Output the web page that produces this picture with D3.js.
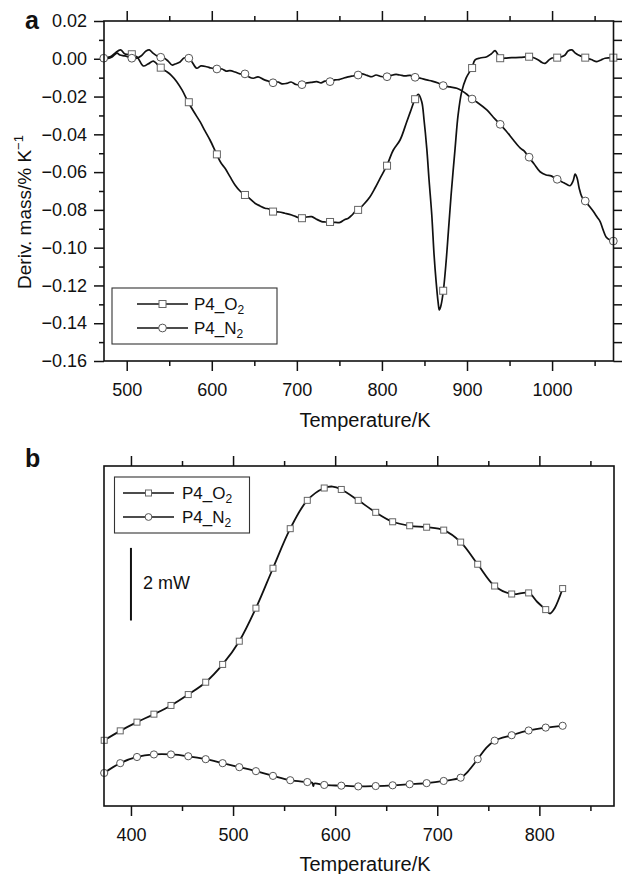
<!DOCTYPE html>
<html><head><meta charset="utf-8">
<script src="https://cdn.jsdelivr.net/npm/d3@7"></script>
<style>
body{margin:0;background:#fff}
svg{display:block}
text{font-family:"Liberation Sans",Arial,Helvetica,sans-serif;fill:#111}
</style>
</head><body>
<svg id="c" width="622" height="874"></svg>
<script>
// ---------- Panel a data (Temperature/K, Deriv. mass/% K^-1) ----------
const aO2Line = [
[473.3,0.0006],[480.4,0.0010],[486.2,0.0030],[492.9,0.0047],[498,0.0025],[505.9,0.0020],[512.1,0.0010],[519.5,-0.0038],[525,-0.0028],[531.3,-0.0012],[535.6,-0.0028],[539.5,-0.0047],[547,-0.0068],[552.1,-0.0086],[558.8,-0.0121],[565,-0.0165],[572.4,-0.0230],[579.1,-0.0282],[586.2,-0.0333],[592,-0.0382],[597.9,-0.0430],[605.8,-0.0506],[610.9,-0.0552],[615.6,-0.0580],[621.4,-0.0624],[627.3,-0.0668],[633.2,-0.0700],[639.1,-0.0721],[645,-0.0742],[650.8,-0.0765],[656.7,-0.0779],[662.6,-0.0791],[667.3,-0.0795],[672.3,-0.0809],[679,-0.0811],[686,-0.0818],[693.9,-0.0827],[700.2,-0.0838],[705.7,-0.0844],[710.7,-0.0838],[717.5,-0.0836],[722.5,-0.0848],[729.2,-0.0862],[733.1,-0.0864],[738.6,-0.0864],[743.7,-0.0866],[750.8,-0.0866],[755.5,-0.0853],[760.5,-0.0844],[764.9,-0.0827],[768.4,-0.0809],[772.3,-0.0800],[779,-0.0769],[786,-0.0730],[791.9,-0.0684],[797.8,-0.0633],[805.7,-0.0566],[813.4,-0.0483],[821.3,-0.0430],[829.2,-0.0333],[834.2,-0.0271],[838.9,-0.0214],[842.8,-0.0188],[846.8,-0.0227],[849.5,-0.0324],[852.7,-0.0474],[855.4,-0.0642],[858.6,-0.0827],[861.3,-0.1039],[863.7,-0.1180],[866,-0.1287],[867.5,-0.1330],[869.5,-0.1304],[872.2,-0.1228],[875.4,-0.1076],[878.1,-0.0915],[881.3,-0.0721],[886,-0.0474],[889.5,-0.0298],[893.8,-0.0174],[898.9,-0.0102],[905.6,-0.0049],[909.5,-0.0006],[915.4,0.0004],[923.3,0.0011],[928.3,0.0025],[933,0.0043],[936.6,0.0020],[938.9,0.0003],[944.8,0.0003],[952.6,0.0006],[962.4,0.0007],[972.6,0.0011],[977.7,0.0007],[983.9,-0.0006],[988.3,-0.0020],[991.8,-0.0024],[996.5,-0.0006],[1000,0.0004],[1005.5,0.0006],[1010.6,0.0010],[1015.3,0.0020],[1018.8,0.0041],[1023.2,0.0047],[1027,0.0031],[1030.9,0.0020],[1038.8,0.0006],[1045.9,-0.0004],[1052.6,-0.0015],[1057.6,-0.0006],[1062.3,0.0003],[1072.1,0.0006]
];
const aO2Markers = [
[506,0.0024],[540,-0.0047],[573,-0.0230],[606,-0.0506],[639,-0.0721],[672,-0.0809],[706,-0.0844],[739,-0.0864],[772,-0.0800],[806,-0.0566],[839,-0.0214],[872,-0.1228],[906,-0.0049],[939,0.0003],[973,0.0011],[1006,0.0006],[1039,0.0006],[1072,0.0006]
];
const aN2Line = [
[473.4,0.0003],[478,0.0002],[482.7,0.0010],[488.6,0.0030],[492.1,0.0020],[498,0.0015],[505.9,0.0003],[510.9,0.0002],[516.8,0.0015],[522.7,0.0041],[526.6,0.0047],[530.9,0.0030],[535.6,0.0015],[539.5,0.0008],[543.9,0.0004],[548.6,-0.0012],[553.3,-0.0033],[556.8,-0.0028],[562.7,-0.0017],[567.4,0.0004],[572.9,0.0003],[576.8,-0.0017],[582.3,-0.0050],[587.3,-0.0038],[594,-0.0042],[599.1,-0.0049],[605.8,-0.0054],[612,-0.0054],[616.7,-0.0065],[621.4,-0.0063],[627.3,-0.0070],[633.2,-0.0080],[639.1,-0.0080],[643.8,-0.0096],[648.8,-0.0103],[654.4,-0.0096],[660.6,-0.0109],[666.1,-0.0118],[672.3,-0.0127],[677.9,-0.0123],[682.6,-0.0133],[688.1,-0.0130],[693.2,-0.0123],[699,-0.0136],[705.7,-0.0137],[710.8,-0.0128],[716.7,-0.0125],[723.4,-0.0121],[728.4,-0.0128],[733.1,-0.0118],[739,-0.0121],[744.9,-0.0112],[749.6,-0.0110],[754.6,-0.0103],[760.2,-0.0096],[766,-0.0091],[772.3,-0.0086],[776.6,-0.0080],[782.5,-0.0088],[788,-0.0095],[793.1,-0.0086],[799,-0.0094],[805.7,-0.0095],[810.8,-0.0088],[816.6,-0.0083],[821.3,-0.0086],[827.2,-0.0091],[833,-0.0088],[838.9,-0.0098],[844.8,-0.0102],[852.7,-0.0112],[858.9,-0.0118],[866,-0.0128],[872.2,-0.0142],[880.1,-0.0149],[888,-0.0156],[894.2,-0.0170],[900.1,-0.0189],[905.6,-0.0213],[913,-0.0234],[923.3,-0.0271],[930.7,-0.0308],[938.9,-0.0347],[946,-0.0382],[954.5,-0.0430],[962.4,-0.0472],[967.1,-0.0488],[972.6,-0.0521],[978.9,-0.0557],[985.9,-0.0598],[993,-0.0615],[998.9,-0.0620],[1005.5,-0.0638],[1011.8,-0.0652],[1016.5,-0.0663],[1021.2,-0.0672],[1024.7,-0.0647],[1027.1,-0.0611],[1029.4,-0.0631],[1031.8,-0.0684],[1034.9,-0.0730],[1038.8,-0.0753],[1043.5,-0.0779],[1048.6,-0.0809],[1052.9,-0.0838],[1056.5,-0.0862],[1060,-0.0906],[1063.5,-0.0943],[1068.2,-0.0959],[1072.1,-0.0965]
];
const aN2Markers = [
[473,0.0003],[506,0.0003],[540,0.0008],[573,0.0003],[606,-0.0054],[639,-0.0080],[672,-0.0127],[706,-0.0137],[739,-0.0121],[772,-0.0086],[806,-0.0095],[839,-0.0098],[872,-0.0142],[906,-0.0213],[939,-0.0347],[973,-0.0521],[1006,-0.0638],[1039,-0.0753],[1072,-0.0965]
];
const aXTicks = [500,600,700,800,900,1000];
const aXMinor = [550,650,750,850,950,1050];
const aYTicks = [-0.16,-0.14,-0.12,-0.10,-0.08,-0.06,-0.04,-0.02,0.00,0.02];
const aYMinor = [-0.15,-0.13,-0.11,-0.09,-0.07,-0.05,-0.03,-0.01,0.01];

// ---------- Panel b data (Temperature/K, heat flow / mW, arbitrary offset) ----------
const bO2Markers = [
[373.8,1.81],[389.5,2.07],[405.9,2.31],[422.5,2.53],[439.2,2.77],[456.1,3.07],[473.2,3.41],[489.8,3.90],[506.1,4.54],[522.4,5.45],[539.1,6.55],[556,7.64],[572.7,8.42],[589.3,8.76],[606,8.72],[622.6,8.42],[639.7,8.09],[656.3,7.83],[673,7.72],[689.6,7.68],[706.3,7.60],[722.9,7.27],[739.6,6.66],[756.2,6.06],[772.9,5.84],[789.5,5.87],[806.2,5.41],[822.8,5.99]
];
const bO2Line = [
[373.8,1.81],[389.5,2.07],[405.9,2.31],[422.5,2.53],[439.2,2.77],[456.1,3.07],[473.2,3.41],[489.8,3.90],[506.1,4.54],[522.4,5.45],[539.1,6.55],[556,7.64],[572.7,8.42],[589.3,8.76],[597.5,8.80],[606,8.72],[622.6,8.42],[639.7,8.09],[656.3,7.83],[673,7.72],[689.6,7.68],[706.3,7.60],[722.9,7.27],[739.6,6.66],[756.2,6.06],[772.9,5.84],[789.5,5.87],[798,5.62],[806.2,5.41],[810.4,5.30],[815,5.45],[822.8,5.99]
];
const bN2Markers = [
[373.8,0.91],[389.5,1.18],[405.9,1.35],[422.5,1.42],[439.2,1.42],[456.1,1.37],[473.2,1.29],[489.8,1.18],[506.1,1.07],[522.4,0.96],[539.1,0.83],[556,0.71],[572.7,0.66],[589.3,0.58],[606,0.56],[622.6,0.54],[639.7,0.55],[656.3,0.57],[673,0.60],[689.6,0.63],[706.3,0.69],[722.9,0.78],[739.6,1.29],[756.2,1.80],[772.9,1.95],[789.5,2.08],[806.2,2.16],[822.8,2.21]
];
const bN2Line = [
[373.8,0.91],[389.5,1.18],[405.9,1.35],[422.5,1.42],[439.2,1.42],[456.1,1.37],[473.2,1.29],[489.8,1.18],[506.1,1.07],[522.4,0.96],[539.1,0.83],[556,0.71],[572.7,0.66],[577.5,0.64],[578.6,0.55],[579.6,0.62],[589.3,0.58],[606,0.56],[622.6,0.54],[639.7,0.55],[656.3,0.57],[673,0.60],[689.6,0.63],[706.3,0.69],[722.9,0.78],[730,0.95],[739.6,1.29],[748,1.60],[756.2,1.80],[772.9,1.95],[789.5,2.08],[806.2,2.16],[822.8,2.21]
];
const bXTicks = [400,500,600,700,800];
const bXMinor = [450,550,650,750,850];
const bScaleBar = {T:400, from:5.11, len:2, label:"2 mW"};

const seriesNames = [{base:"P4_O", sub:"2", marker:"square"},{base:"P4_N", sub:"2", marker:"circle"}];

// ---------- drawing ----------
const svg = d3.select("#c");
const FONT_TICK = 18;

function drawMarker(g, type, x, y, size){
  if(type==="square"){
    g.append("rect").attr("x",x-size/2).attr("y",y-size/2).attr("width",size).attr("height",size)
      .attr("fill","#fff").attr("stroke","#666").attr("stroke-width",1);
  } else {
    g.append("circle").attr("cx",x).attr("cy",y).attr("r",size/2+0.4)
      .attr("fill","#fff").attr("stroke","#555").attr("stroke-width",1);
  }
}

function styleAxis(g){
  g.select(".domain").remove();
  g.selectAll(".tick line").attr("stroke","#111").attr("stroke-width",1.5);
  g.selectAll("text").style("font-size",FONT_TICK+"px").attr("fill","#111");
}

// ===== Panel a =====
const A = {left:104, right:613.5, top:21, bottom:361};
const ax = d3.scaleLinear().domain([473.3,1072.2]).range([A.left,A.right]);
const ay = d3.scaleLinear().domain([-0.16,0.02]).range([A.bottom,A.top]);
const ga = svg.append("g");

// axes
ga.append("g").attr("transform",`translate(0,${A.bottom})`)
  .call(d3.axisBottom(ax).tickValues(aXTicks).tickSize(10).tickPadding(12).tickFormat(d3.format("d"))).call(styleAxis);
ga.append("g").attr("transform",`translate(0,${A.bottom})`)
  .call(d3.axisBottom(ax).tickValues(aXMinor).tickSize(5).tickFormat("")).call(styleAxis);
ga.append("g").attr("transform",`translate(0,${A.top})`)
  .call(d3.axisTop(ax).tickValues(aXTicks).tickSize(10).tickFormat("")).call(styleAxis);
ga.append("g").attr("transform",`translate(0,${A.top})`)
  .call(d3.axisTop(ax).tickValues(aXMinor).tickSize(5).tickFormat("")).call(styleAxis);
ga.append("g").attr("transform",`translate(${A.left},0)`)
  .call(d3.axisLeft(ay).tickValues(aYTicks).tickSize(10).tickPadding(7).tickFormat(d3.format(".2f"))).call(styleAxis);
ga.append("g").attr("transform",`translate(${A.left},0)`)
  .call(d3.axisLeft(ay).tickValues(aYMinor).tickSize(5).tickFormat("")).call(styleAxis);
ga.append("g").attr("transform",`translate(${A.right},0)`)
  .call(d3.axisRight(ay).tickValues(aYTicks.concat(aYMinor)).tickSize(9).tickFormat("")).call(styleAxis);

// lines
const aLine = d3.line().x(d=>ax(d[0])).y(d=>ay(d[1])).curve(d3.curveCatmullRom.alpha(0.5));
ga.append("path").datum(aO2Line).attr("d",aLine).attr("fill","none").attr("stroke","#111").attr("stroke-width",1.7);
ga.append("path").datum(aN2Line).attr("d",aLine).attr("fill","none").attr("stroke","#111").attr("stroke-width",1.7);
const gam = ga.append("g");
aO2Markers.forEach(d=>drawMarker(gam,"square",ax(d[0]),ay(d[1]),7));
aN2Markers.forEach(d=>drawMarker(gam,"circle",ax(d[0]),ay(d[1]),7));

// frame
ga.append("rect").attr("x",A.left).attr("y",A.top).attr("width",A.right-A.left).attr("height",A.bottom-A.top)
  .attr("fill","none").attr("stroke","#111").attr("stroke-width",1.6);

// legend a
function legend(g, x0, y0, w, h, lineX0, lineX1, textX, rows, msize){
  g.append("rect").attr("x",x0).attr("y",y0).attr("width",w).attr("height",h)
    .attr("fill","#fff").attr("stroke","#333").attr("stroke-width",1.1);
  seriesNames.forEach((s,i)=>{
    const yy = rows[i];
    g.append("line").attr("x1",lineX0).attr("x2",lineX1).attr("y1",yy).attr("y2",yy).attr("stroke","#111").attr("stroke-width",1.7);
    drawMarker(g, s.marker, (lineX0+lineX1)/2, yy, msize);
    const t = g.append("text").attr("x",textX).attr("y",yy+6).style("font-size","17px");
    t.append("tspan").text(s.base);
    t.append("tspan").attr("dy",4).style("font-size","12px").text(s.sub);
  });
}
legend(ga, 112, 288, 165, 56, 137, 188, 194, [304,328], 7);

// axis titles a
ga.append("text").attr("x",365).attr("y",427).attr("text-anchor","middle").style("font-size","20px").text("Temperature/K");
const yl = ga.append("text").attr("transform","translate(31,212) rotate(-90)").attr("text-anchor","middle").style("font-size","19px");
yl.append("tspan").text("Deriv. mass/% K");
yl.append("tspan").attr("dy",-8).style("font-size","13px").text("\u22121");
ga.append("text").attr("x",25).attr("y",29).style("font-size","25px").style("font-weight","bold").text("a");

// ===== Panel b =====
const B = {left:104, right:614, top:466, bottom:806};
const bx = d3.scaleLinear().domain([373.6,873.1]).range([B.left,B.right]);
const by = d3.scaleLinear().domain([0,340/36.3]).range([B.bottom,B.top]);
const gb = svg.append("g");

gb.append("g").attr("transform",`translate(0,${B.bottom})`)
  .call(d3.axisBottom(bx).tickValues(bXTicks).tickSize(10).tickPadding(12).tickFormat(d3.format("d"))).call(styleAxis);
gb.append("g").attr("transform",`translate(0,${B.bottom})`)
  .call(d3.axisBottom(bx).tickValues(bXMinor).tickSize(5).tickFormat("")).call(styleAxis);
gb.append("g").attr("transform",`translate(0,${B.top})`)
  .call(d3.axisTop(bx).tickValues(bXTicks).tickSize(10).tickFormat("")).call(styleAxis);
gb.append("g").attr("transform",`translate(0,${B.top})`)
  .call(d3.axisTop(bx).tickValues(bXMinor).tickSize(5).tickFormat("")).call(styleAxis);

const bLine = d3.line().x(d=>bx(d[0])).y(d=>by(d[1])).curve(d3.curveCatmullRom.alpha(0.5));
gb.append("path").datum(bO2Line).attr("d",bLine).attr("fill","none").attr("stroke","#111").attr("stroke-width",1.8);
gb.append("path").datum(bN2Line).attr("d",bLine).attr("fill","none").attr("stroke","#111").attr("stroke-width",1.8);
const gbm = gb.append("g");
bO2Markers.forEach(d=>drawMarker(gbm,"square",bx(d[0]),by(d[1]),6));
bN2Markers.forEach(d=>drawMarker(gbm,"circle",bx(d[0]),by(d[1]),6.4));

gb.append("rect").attr("x",B.left).attr("y",B.top).attr("width",B.right-B.left).attr("height",B.bottom-B.top)
  .attr("fill","none").attr("stroke","#111").attr("stroke-width",1.6);

legend(gb, 114.5, 477, 135, 56, 123, 174, 182, [493,517], 6);

// scale bar
gb.append("line").attr("x1",bx(bScaleBar.T)).attr("x2",bx(bScaleBar.T))
  .attr("y1",by(bScaleBar.from)).attr("y2",by(bScaleBar.from+bScaleBar.len))
  .attr("stroke","#111").attr("stroke-width",2);
gb.append("text").attr("x",143).attr("y",589).style("font-size","18px").text(bScaleBar.label);

gb.append("text").attr("x",365).attr("y",871).attr("text-anchor","middle").style("font-size","20px").text("Temperature/K");
gb.append("text").attr("x",25).attr("y",466.5).style("font-size","25px").style("font-weight","bold").text("b");
</script>
</body></html>
